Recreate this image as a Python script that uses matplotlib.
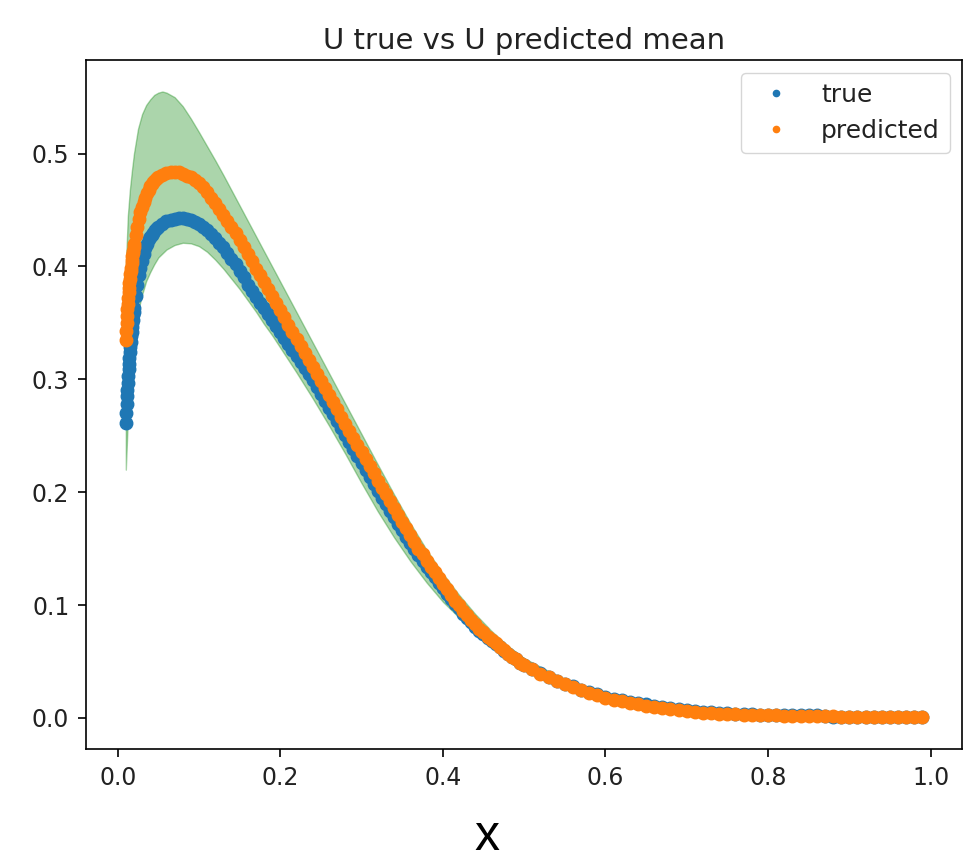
import matplotlib
matplotlib.use("Agg")
import matplotlib.pyplot as plt

# sample positions of the plotted dots (dense near the left edge)
x_start = [0.010, 0.0105, 0.011, 0.0115, 0.012, 0.0125, 0.013, 0.0135, 0.014, 0.0145,
           0.015, 0.0155, 0.016, 0.0165, 0.017, 0.0175, 0.018, 0.0185, 0.019, 0.0195, 0.020]
x_rise = [0.022, 0.024, 0.026, 0.028, 0.030, 0.032, 0.034, 0.036, 0.038, 0.040,
          0.042, 0.044, 0.046, 0.048, 0.050]
x_mid = [0.055, 0.060, 0.065, 0.070, 0.075, 0.080, 0.085, 0.090, 0.095, 0.100,
         0.105, 0.110, 0.115, 0.120, 0.125, 0.130, 0.135, 0.140, 0.145, 0.150,
         0.155, 0.160, 0.165, 0.170, 0.175, 0.180, 0.185, 0.190, 0.195, 0.200,
         0.205, 0.210, 0.215, 0.220, 0.225, 0.230, 0.235, 0.240, 0.245, 0.250,
         0.255, 0.260, 0.265, 0.270, 0.275, 0.280, 0.285, 0.290, 0.295, 0.300,
         0.305, 0.310, 0.315, 0.320, 0.325, 0.330, 0.335, 0.340, 0.345, 0.350,
         0.355, 0.360, 0.365, 0.370, 0.375, 0.380, 0.385, 0.390, 0.395, 0.400,
         0.405, 0.410, 0.415, 0.420, 0.425, 0.430, 0.435, 0.440, 0.445, 0.450,
         0.455, 0.460, 0.465, 0.470, 0.475, 0.480, 0.485, 0.490, 0.495, 0.500]
x_tail = [0.51, 0.52, 0.53, 0.54, 0.55, 0.56, 0.57, 0.58, 0.59, 0.60,
          0.61, 0.62, 0.63, 0.64, 0.65, 0.66, 0.67, 0.68, 0.69, 0.70,
          0.71, 0.72, 0.73, 0.74, 0.75, 0.76, 0.77, 0.78, 0.79, 0.80,
          0.81, 0.82, 0.83, 0.84, 0.85, 0.86, 0.87, 0.88, 0.89, 0.90,
          0.91, 0.92, 0.93, 0.94, 0.95, 0.96, 0.97, 0.98, 0.99]

u_true_start = [0.261, 0.270, 0.278, 0.285, 0.291, 0.297, 0.303, 0.309, 0.314, 0.319,
                0.324, 0.329, 0.333, 0.338, 0.342, 0.346, 0.350, 0.353, 0.357, 0.360, 0.363]
u_true_rise = [0.374, 0.384, 0.392, 0.399, 0.405, 0.411, 0.416, 0.420, 0.424, 0.426,
               0.428, 0.430, 0.432, 0.434, 0.435]
u_true_mid = [0.438, 0.440, 0.441, 0.442, 0.4425, 0.4425, 0.442, 0.441, 0.4395, 0.4375,
              0.435, 0.432, 0.429, 0.425, 0.421, 0.417, 0.412, 0.407, 0.402, 0.396,
              0.3905, 0.384, 0.3785, 0.373, 0.368, 0.363, 0.3578, 0.3525, 0.3473, 0.342,
              0.3368, 0.3315, 0.3263, 0.321, 0.3155, 0.310, 0.3045, 0.299, 0.2931, 0.287,
              0.281, 0.2749, 0.2689, 0.2628, 0.2568, 0.2507, 0.2445, 0.2383, 0.2322, 0.226,
              0.2198, 0.2136, 0.2075, 0.2013, 0.1952, 0.1895, 0.1837, 0.178, 0.1722, 0.1665,
              0.1607, 0.155, 0.1495, 0.144, 0.1395, 0.134, 0.1292, 0.1245, 0.1197, 0.115,
              0.1102, 0.1055, 0.1007, 0.097, 0.0922, 0.0885, 0.0847, 0.081, 0.0772, 0.0745,
              0.0707, 0.068, 0.0652, 0.0625, 0.0597, 0.057, 0.054, 0.052, 0.049, 0.047]
u_true_tail = [0.043, 0.040, 0.036, 0.033, 0.030, 0.028, 0.025, 0.023, 0.021, 0.019,
               0.017, 0.016, 0.014, 0.013, 0.012, 0.0105, 0.0095, 0.0085, 0.0077, 0.0069,
               0.0062, 0.0056, 0.0050, 0.0045, 0.0040, 0.0036, 0.0033, 0.0031, 0.0029, 0.0028,
               0.0028, 0.0029, 0.0030, 0.0030, 0.0029, 0.0026, 0.0015, 0.0013, 0.0012, 0.0011,
               0.0010, 0.0009, 0.0008, 0.0008, 0.0007, 0.0007, 0.0006, 0.0006, 0.0005]

u_pred_start = [0.335, 0.343, 0.350, 0.356, 0.362, 0.367, 0.372, 0.377, 0.381, 0.385,
                0.389, 0.393, 0.396, 0.399, 0.403, 0.406, 0.409, 0.412, 0.414, 0.417, 0.420]
u_pred_rise = [0.428, 0.435, 0.442, 0.448, 0.453, 0.457, 0.461, 0.465, 0.468, 0.471,
               0.473, 0.475, 0.477, 0.478, 0.479]
u_pred_mid = [0.481, 0.4825, 0.4835, 0.484, 0.4835, 0.482, 0.4805, 0.479, 0.477, 0.474,
              0.470, 0.466, 0.461, 0.456, 0.451, 0.446, 0.4405, 0.435, 0.4295, 0.4235,
              0.4175, 0.411, 0.4045, 0.398, 0.392, 0.386, 0.3798, 0.3735, 0.3673, 0.361,
              0.3548, 0.3485, 0.3423, 0.336, 0.3298, 0.3235, 0.3173, 0.311, 0.3048, 0.2985,
              0.2922, 0.2859, 0.2796, 0.2733, 0.267, 0.2607, 0.2544, 0.2481, 0.2418, 0.2355,
              0.2292, 0.2229, 0.2166, 0.2103, 0.204, 0.198, 0.192, 0.186, 0.180, 0.174,
              0.168, 0.162, 0.156, 0.150, 0.145, 0.139, 0.134, 0.129, 0.124, 0.119,
              0.114, 0.109, 0.104, 0.100, 0.095, 0.091, 0.087, 0.083, 0.079, 0.076,
              0.072, 0.069, 0.066, 0.063, 0.060, 0.057, 0.054, 0.052, 0.049, 0.047]
u_pred_tail = [0.043, 0.039, 0.036, 0.033, 0.030, 0.027, 0.025, 0.022, 0.020, 0.018,
               0.016, 0.015, 0.013, 0.012, 0.011, 0.0095, 0.0085, 0.0076, 0.0068, 0.0060,
               0.0054, 0.0048, 0.0043, 0.0039, 0.0035, 0.0032, 0.0029, 0.0027, 0.0025, 0.0023,
               0.0022, 0.0020, 0.0019, 0.0018, 0.0017, 0.0016, 0.0015, 0.0014, 0.0013, 0.0012,
               0.0011, 0.0010, 0.0009, 0.0009, 0.0008, 0.0008, 0.0007, 0.0007, 0.0006]

# uncertainty band of the prediction
band_x = [0.010, 0.0125, 0.015, 0.0175, 0.020, 0.025, 0.030, 0.035, 0.040, 0.045,
          0.050, 0.055, 0.060, 0.07, 0.08, 0.09, 0.10, 0.11, 0.12, 0.13,
          0.14, 0.15, 0.16, 0.17, 0.18, 0.19, 0.20, 0.22, 0.24, 0.26,
          0.28, 0.30, 0.32, 0.34, 0.36, 0.38, 0.40, 0.42, 0.44, 0.46,
          0.48, 0.50, 0.55, 0.60, 0.65, 0.70, 0.75, 0.80, 0.85, 0.90,
          0.95, 0.99]
band_lo = [0.220, 0.265, 0.300, 0.321, 0.338, 0.360, 0.375, 0.387, 0.395, 0.402,
           0.408, 0.4115, 0.415, 0.419, 0.421, 0.4205, 0.418, 0.413, 0.406, 0.398,
           0.389, 0.380, 0.370, 0.360, 0.349, 0.339, 0.328, 0.306, 0.283, 0.259,
           0.234, 0.208, 0.183, 0.160, 0.139, 0.120, 0.103, 0.089, 0.076, 0.064,
           0.054, 0.045, 0.028, 0.017, 0.010, 0.0055, 0.003, 0.0017, 0.0010, 0.0006,
           0.0004, 0.0002]
band_hi = [0.400, 0.445, 0.468, 0.485, 0.500, 0.522, 0.535, 0.543, 0.548, 0.552,
           0.554, 0.555, 0.554, 0.550, 0.542, 0.531, 0.519, 0.5065, 0.494, 0.481,
           0.4675, 0.454, 0.4405, 0.427, 0.4135, 0.400, 0.3865, 0.3595, 0.3325, 0.3055,
           0.2785, 0.2515, 0.2245, 0.198, 0.1725, 0.149, 0.128, 0.109, 0.092, 0.077,
           0.064, 0.053, 0.034, 0.021, 0.013, 0.0075, 0.0045, 0.003, 0.0021, 0.0015,
           0.001, 0.0007]

x_pts = x_start + x_rise + x_mid + x_tail
u_true = u_true_start + u_true_rise + u_true_mid + u_true_tail
u_pred = u_pred_start + u_pred_rise + u_pred_mid + u_pred_tail

fig = plt.figure(figsize=(9.64, 8.6), dpi=100)
ax = fig.add_axes([0.0892, 0.129, 0.909, 0.801])

ax.fill_between(band_x, band_lo, band_hi, color="green", alpha=0.33, zorder=1)
ax.plot(x_pts, u_true, ".", color="#1f77b4", ms=18, label="true", zorder=2)
ax.plot(x_pts, u_pred, ".", color="#ff7f0e", ms=18, label="predicted", zorder=3)

ax.set_title("U true vs U predicted mean", fontsize=21, pad=8, color="#222222")
ax.tick_params(labelsize=17, length=6, width=1.2, pad=6, labelcolor="#222222")
for sp in ax.spines.values():
    sp.set_linewidth(1.2)
leg = ax.legend(loc="upper right", fontsize=18, markerscale=0.5)
for t in leg.get_texts():
    t.set_color("#222222")

fig.text(487 / 964, 1 - 837 / 860, "x", fontsize=36, family="Liberation Sans",
         ha="center", va="center")

fig.savefig("out.png", dpi=100)
